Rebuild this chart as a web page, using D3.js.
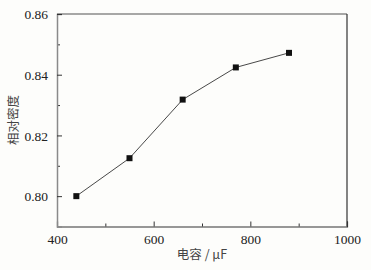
<!DOCTYPE html>
<meta charset="utf-8">
<html>
<head>
<script src="https://d3js.org/d3.v7.min.js"></script>
<style>
  body { margin: 0; background: #fdfdfb; }
  svg { display: block; }
  .label { font-family: "Noto Sans CJK SC", sans-serif; font-size: 12.5px; fill: #444; }
</style>
</head>
<body>
<div id="chart"></div>
<script>
var capacitance = [440, 550, 660, 770, 880];
var density = [0.800, 0.8125, 0.8318, 0.8424, 0.8472];
var xTicks = [400, 600, 800, 1000];
var yTicks = [0.80, 0.82, 0.84, 0.86];

var width = 371, height = 270;
var margin = {left: 57, right: 24, top: 14, bottom: 43.5};

var svg = d3.select("#chart").append("svg")
    .attr("width", width)
    .attr("height", height);

var x = d3.scaleLinear().domain([400, 1000]).range([margin.left, width - margin.right]);
var y = d3.scaleLinear().domain([0.79, 0.86]).range([height - margin.bottom, margin.top]);

// frame: top and left lighter, right and bottom dark
svg.append("line").attr("x1", x(400)).attr("x2", x(1000)).attr("y1", y(0.86)).attr("y2", y(0.86))
    .attr("stroke", "#8a8a8a").attr("stroke-width", 1.5);
svg.append("line").attr("x1", x(1000)).attr("x2", x(1000)).attr("y1", y(0.86)).attr("y2", y(0.79))
    .attr("stroke", "#333").attr("stroke-width", 1.2);

// minor ticks
var gx = svg.append("g").attr("transform", "translate(0," + y(0.79) + ")")
    .call(d3.axisBottom(x).tickValues([500, 700, 900]).tickSize(-3).tickFormat(""));
var gy = svg.append("g").attr("transform", "translate(" + x(400) + ",0)")
    .call(d3.axisLeft(y).tickValues([0.81, 0.83, 0.85]).tickSize(-3).tickFormat(""));

// major ticks
var xAxis = svg.append("g").attr("transform", "translate(0," + y(0.79) + ")")
    .call(d3.axisBottom(x).tickValues(xTicks).tickSize(-5).tickPadding(8).tickFormat(d3.format("d")));
var yAxis = svg.append("g").attr("transform", "translate(" + x(400) + ",0)")
    .call(d3.axisLeft(y).tickValues(yTicks).tickSize(-5).tickPadding(9).tickFormat(d3.format(".2f")));

xAxis.select(".domain").attr("stroke", "#333").attr("stroke-width", 1.2);
yAxis.select(".domain").attr("stroke", "#8a8a8a").attr("stroke-width", 1.5);
gx.select(".domain").remove();
gy.select(".domain").remove();
svg.selectAll(".tick line").attr("stroke", "#333");
svg.selectAll(".tick text")
    .style("font-family", "'Liberation Serif', 'DejaVu Serif', serif")
    .style("font-size", "13.5px")
    .attr("fill", "#222");
yAxis.selectAll(".tick text").attr("dy", "0.35em");

// line + markers
var pts = capacitance.map(function(d, i) { return [d, density[i]]; });
svg.append("path")
    .datum(pts)
    .attr("fill", "none")
    .attr("stroke", "#333")
    .attr("stroke-width", 0.9)
    .attr("d", d3.line().x(function(d) { return x(d[0]); }).y(function(d) { return y(d[1]); }));

svg.selectAll("rect.pt")
    .data(pts)
    .enter().append("rect")
    .attr("class", "pt")
    .attr("x", function(d) { return x(d[0]) - 3; })
    .attr("y", function(d) { return y(d[1]) - 3; })
    .attr("width", 6).attr("height", 6)
    .attr("fill", "#111");

// axis titles
svg.append("text").attr("class", "label")
    .attr("x", (x(400) + x(1000)) / 2).attr("y", 259)
    .attr("text-anchor", "middle")
    .text("电容 / μF");
svg.append("text").attr("class", "label")
    .attr("transform", "translate(18," + 120 + ") rotate(-90)")
    .attr("text-anchor", "middle")
    .text("相对密度");
</script>
</body>
</html>
